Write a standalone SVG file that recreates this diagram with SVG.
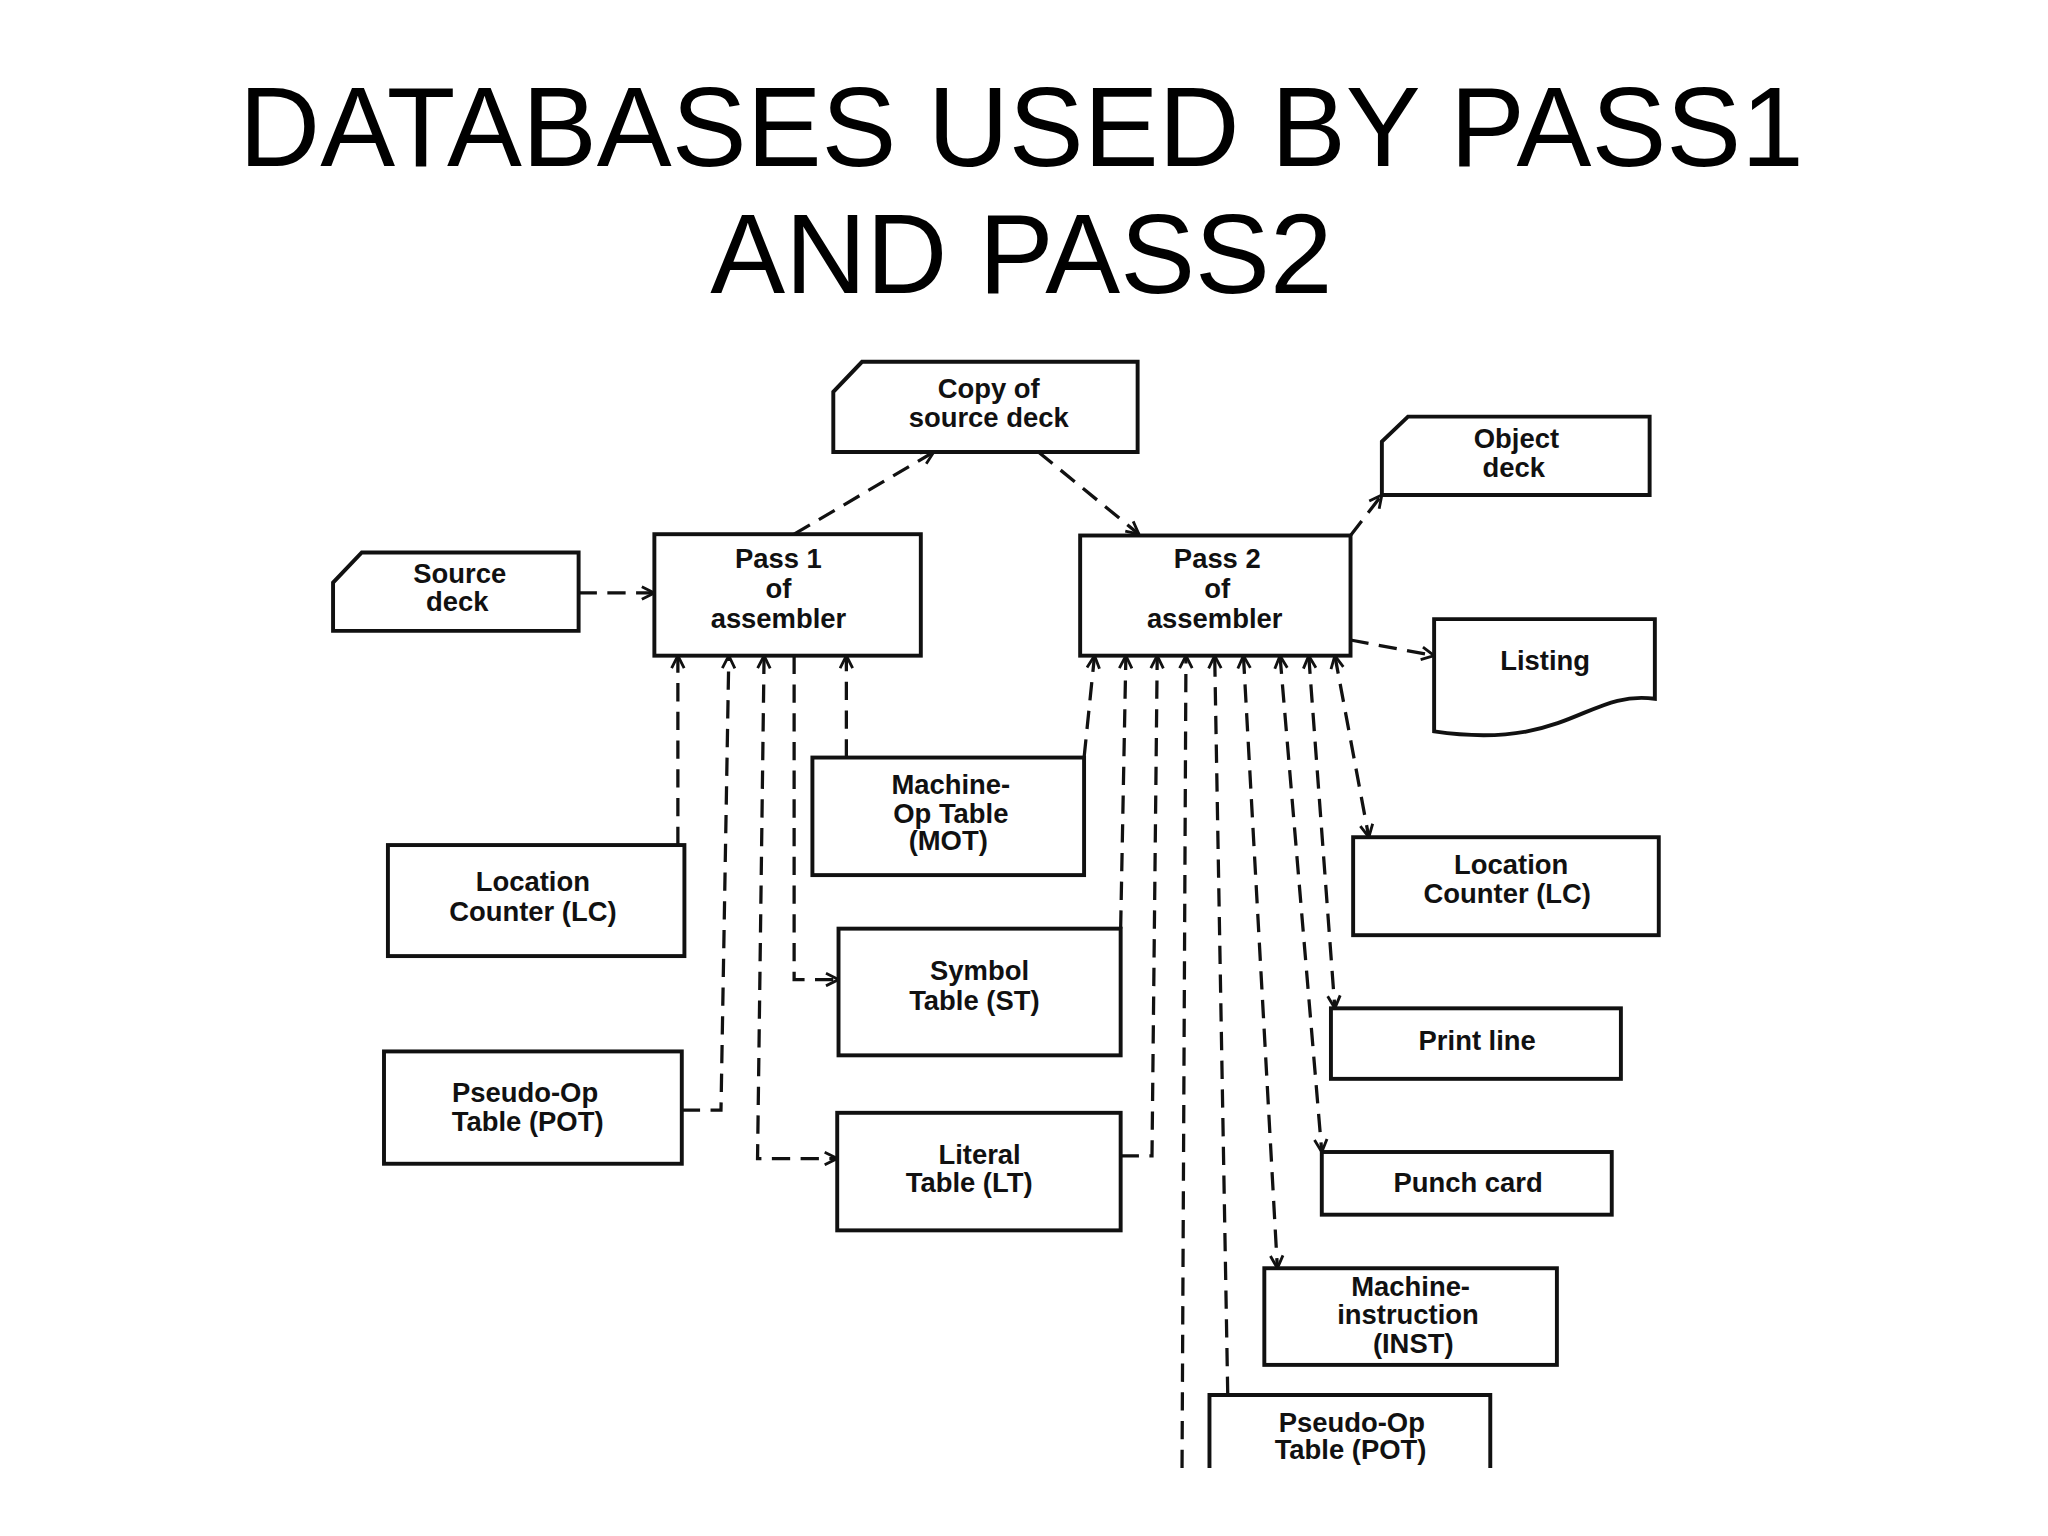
<svg xmlns="http://www.w3.org/2000/svg" width="2048" height="1536" viewBox="0 0 2048 1536">
<style>
.b{fill:#fff;stroke:#111;stroke-width:3}
.t{font-family:"Liberation Sans",Arial,sans-serif;font-weight:bold;font-size:21px;fill:#111;text-anchor:middle}
.h{font-family:"Liberation Sans",Arial,sans-serif;font-size:86px;fill:#000;text-anchor:middle}
.c{fill:none;stroke:#111;stroke-width:2.5;stroke-dasharray:14 8}
</style>
<defs><marker id="a" viewBox="0 0 10 10" refX="9" refY="5" markerWidth="12" markerHeight="12" markerUnits="userSpaceOnUse" orient="auto-start-reverse"><path d="M1,1 L9,5 L1,9" fill="none" stroke="#111" stroke-width="1.8"/></marker></defs>
<rect width="2048" height="1536" fill="#fff"/>
<g transform="scale(1.30612)">
<g id="title"><text class="h" x="782" y="127">DATABASES USED BY PASS1</text><text class="h" x="782" y="224">AND PASS2</text></g>
<g id="connectors">
<path class="c" d="M443,454H501" marker-end="url(#a)"/>
<path class="c" d="M608,409L715,346" marker-end="url(#a)"/>
<path class="c" d="M795,346L872,409" marker-end="url(#a)"/>
<path class="c" d="M1034,410L1058,379" marker-end="url(#a)"/>
<path class="c" d="M1034,490L1098,502" marker-end="url(#a)"/>
<path class="c" d="M519,647V502" marker-end="url(#a)"/>
<path class="c" d="M522,850H552L558,502" marker-end="url(#a)"/>
<path class="c" d="M585,502L580,887H641" marker-start="url(#a)" marker-end="url(#a)"/>
<path class="c" d="M608,502V750H642" marker-end="url(#a)"/>
<path class="c" d="M648,580V502" marker-end="url(#a)"/>
<path class="c" d="M830,580L838,502" marker-end="url(#a)"/>
<path class="c" d="M858,711L862,502" marker-end="url(#a)"/>
<path class="c" d="M858,885H882L886,502" marker-end="url(#a)"/>
<path class="c" d="M905,1124L908,502" marker-end="url(#a)"/>
<path class="c" d="M940,1068L930,502" marker-end="url(#a)"/>
<path class="c" d="M952,502L978,971" marker-start="url(#a)" marker-end="url(#a)"/>
<path class="c" d="M980,502L1012,882" marker-start="url(#a)" marker-end="url(#a)"/>
<path class="c" d="M1002,502L1022,772" marker-start="url(#a)" marker-end="url(#a)"/>
<path class="c" d="M1022,502L1048,641" marker-start="url(#a)" marker-end="url(#a)"/>
</g>
<g id="copy"><path class="b" d="M660,277H871V346H638V300Z"/><text class="t" x="757" y="305">Copy of</text><text class="t" x="757" y="327">source deck</text></g>
<g id="object"><path class="b" d="M1078,319H1263V379H1058V338Z"/><text class="t" x="1161" y="343">Object</text><text class="t" x="1159" y="365">deck</text></g>
<g id="source"><path class="b" d="M277,423H443V483H255V446Z"/><text class="t" x="352" y="446">Source</text><text class="t" x="350" y="468">deck</text></g>
<g id="pass1"><rect class="b" x="501" y="409" width="204" height="93"/><text class="t" x="596" y="435">Pass 1</text><text class="t" x="596" y="458">of</text><text class="t" x="596" y="481">assembler</text></g>
<g id="pass2"><rect class="b" x="827" y="410" width="207" height="92"/><text class="t" x="932" y="435">Pass 2</text><text class="t" x="932" y="458">of</text><text class="t" x="930" y="481">assembler</text></g>
<g id="listing"><path class="b" d="M1098,474H1267V535C1215,528 1200,575 1098,560Z"/><text class="t" x="1183" y="513">Listing</text></g>
<g id="mot"><rect class="b" x="622" y="580" width="208" height="90"/><text class="t" x="728" y="608">Machine-</text><text class="t" x="728" y="630">Op Table</text><text class="t" x="726" y="651">(MOT)</text></g>
<g id="lc1"><rect class="b" x="297" y="647" width="227" height="85"/><text class="t" x="408" y="682">Location</text><text class="t" x="408" y="705">Counter (LC)</text></g>
<g id="st"><rect class="b" x="642" y="711" width="216" height="97"/><text class="t" x="750" y="750">Symbol</text><text class="t" x="746" y="773">Table (ST)</text></g>
<g id="pot1"><rect class="b" x="294" y="805" width="228" height="86"/><text class="t" x="402" y="844">Pseudo-Op</text><text class="t" x="404" y="866">Table (POT)</text></g>
<g id="lt"><rect class="b" x="641" y="852" width="217" height="90"/><text class="t" x="750" y="891">Literal</text><text class="t" x="742" y="913">Table (LT)</text></g>
<g id="lc2"><rect class="b" x="1036" y="641" width="234" height="75"/><text class="t" x="1157" y="669">Location</text><text class="t" x="1154" y="691">Counter (LC)</text></g>
<g id="print"><rect class="b" x="1019" y="772" width="222" height="54"/><text class="t" x="1131" y="804">Print line</text></g>
<g id="punch"><rect class="b" x="1012" y="882" width="222" height="48"/><text class="t" x="1124" y="913">Punch card</text></g>
<g id="inst"><rect class="b" x="968" y="971" width="224" height="74"/><text class="t" x="1080" y="992">Machine-</text><text class="t" x="1078" y="1014">instruction</text><text class="t" x="1082" y="1036">(INST)</text></g>
<g id="pot2"><path class="b" d="M926,1124V1068H1141V1124"/><text class="t" x="1035" y="1096">Pseudo-Op</text><text class="t" x="1034" y="1117">Table (POT)</text></g>
</g>
</svg>
